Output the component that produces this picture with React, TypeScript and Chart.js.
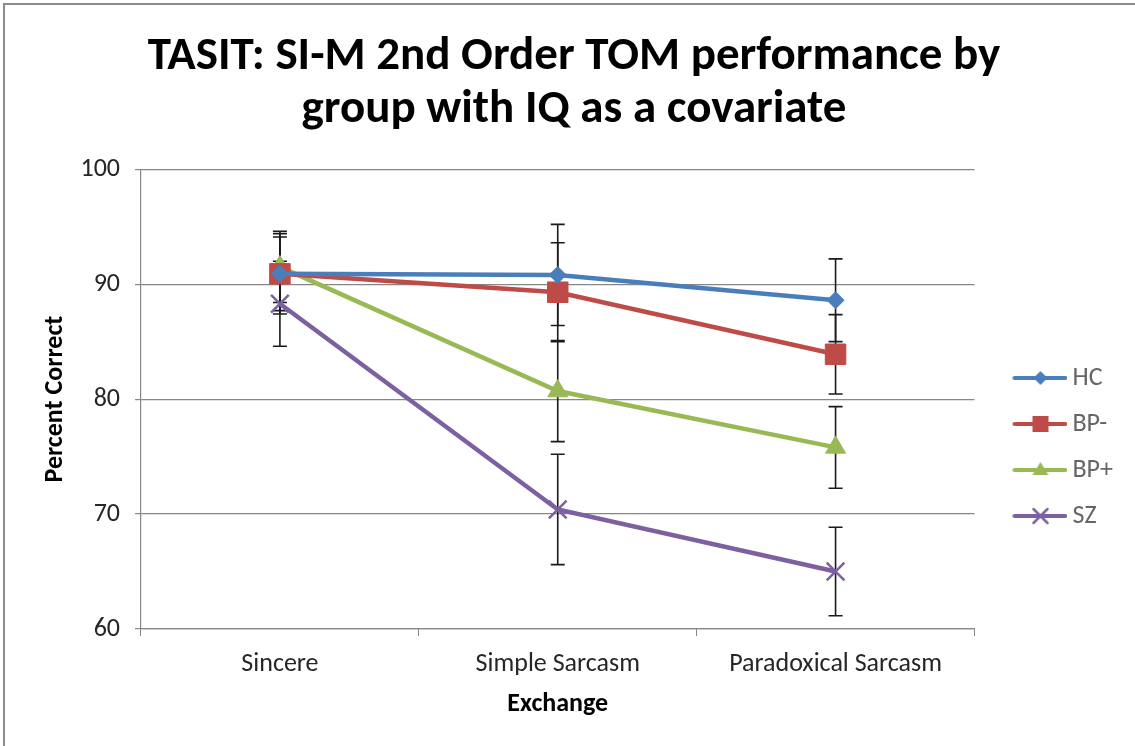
import React, { useEffect, useRef } from 'react';
import { Chart, registerables } from 'chart.js';

Chart.register(...registerables);

const FONT = "Carlito, Lato, 'Open Sans', sans-serif";

const titleLines = ['TASIT: SI-M 2nd Order TOM performance by', 'group with IQ as a covariate'];
const categories = ['Sincere', 'Simple Sarcasm', 'Paradoxical Sarcasm'];
const seriesNames = ['HC', 'BP-', 'BP+', 'SZ'];
const hcValues = [90.9, 90.8, 88.6];
const bpMinusValues = [90.9, 89.3, 83.9];
const bpPlusValues = [91.5, 80.7, 75.8];
const szValues = [88.3, 70.4, 65.0];
const hcErrors = [3.5, 4.4, 3.6];
const bpMinusErrors = [3.2, 4.3, 3.45];
const bpPlusErrors = [3.1, 4.4, 3.55];
const szErrors = [3.7, 4.8, 3.85];
const yTickValues = [60, 70, 80, 90, 100];
const yAxisTitle = 'Percent Correct';
const xAxisTitle = 'Exchange';

const seriesValues = [hcValues, bpMinusValues, bpPlusValues, szValues];
const seriesErrors = [hcErrors, bpMinusErrors, bpPlusErrors, szErrors];
const seriesColors = ['#4A7EBB', '#BE4B48', '#98B954', '#7D60A0'];
const markerStyles = ['rectRot', 'rect', 'triangle', 'crossRot'];
const markerRadius = [8.5, 14.5, 11.5, 12.5];

const ICON_BOX = 65;
const ICON_W = 81;

function legendIcon(color: string, style: string): HTMLCanvasElement {
  const c = document.createElement('canvas');
  c.width = ICON_W;
  c.height = 24;
  const ctx = c.getContext('2d')!;
  ctx.strokeStyle = color;
  ctx.fillStyle = color;
  ctx.lineWidth = 4;
  ctx.lineCap = 'round';
  ctx.beginPath();
  ctx.moveTo(28, 12);
  ctx.lineTo(79, 12);
  ctx.stroke();
  const cx = 54;
  const cy = 12;
  ctx.beginPath();
  if (style === 'rectRot') {
    ctx.moveTo(cx, cy - 7);
    ctx.lineTo(cx + 7, cy);
    ctx.lineTo(cx, cy + 7);
    ctx.lineTo(cx - 7, cy);
    ctx.closePath();
    ctx.fill();
  } else if (style === 'rect') {
    ctx.rect(cx - 8, cy - 8, 16, 16);
    ctx.fill();
  } else if (style === 'triangle') {
    ctx.moveTo(cx, cy - 8);
    ctx.lineTo(cx + 8, cy + 5);
    ctx.lineTo(cx - 8, cy + 5);
    ctx.closePath();
    ctx.fill();
  } else {
    ctx.lineWidth = 2.5;
    ctx.moveTo(cx - 7, cy - 7);
    ctx.lineTo(cx + 7, cy + 7);
    ctx.moveTo(cx + 7, cy - 7);
    ctx.lineTo(cx - 7, cy + 7);
    ctx.stroke();
  }
  return c;
}

const errorBarPlugin = {
  id: 'errorBars',
  beforeDatasetsDraw(chart: any) {
    const ctx = chart.ctx;
    const yScale = chart.scales.y;
    ctx.save();
    ctx.strokeStyle = '#1a1a1a';
    ctx.lineWidth = 1.6;
    chart.data.datasets.forEach((ds: any, i: number) => {
      const meta = chart.getDatasetMeta(i);
      const errs = seriesErrors[i];
      meta.data.forEach((pt: any, j: number) => {
        const v = ds.data[j];
        const top = yScale.getPixelForValue(v + errs[j]);
        const bot = yScale.getPixelForValue(v - errs[j]);
        const x = pt.x;
        ctx.beginPath();
        ctx.moveTo(x, top);
        ctx.lineTo(x, bot);
        ctx.moveTo(x - 7, top);
        ctx.lineTo(x + 7, top);
        ctx.moveTo(x - 7, bot);
        ctx.lineTo(x + 7, bot);
        ctx.stroke();
      });
    });
    ctx.restore();
  },
};

export default function App() {
  const ref = useRef<HTMLCanvasElement>(null);
  useEffect(() => {
    if (!ref.current) return;
    const icons = seriesNames.map((_, i) => legendIcon(seriesColors[i], markerStyles[i]));
    const chart = new Chart(ref.current, {
      type: 'line',
      data: {
        labels: categories,
        datasets: seriesNames.map((name, i) => ({
          label: name,
          data: seriesValues[i],
          borderColor: seriesColors[i],
          backgroundColor: seriesColors[i],
          borderWidth: 4.5,
          pointStyle: markerStyles[i] as any,
          pointRadius: markerRadius[i],
          pointBorderWidth: markerStyles[i] === 'crossRot' ? 2.5 : 1,
          pointBackgroundColor: seriesColors[i],
          pointBorderColor: seriesColors[i],
          tension: 0,
        })),
      },
      options: {
        animation: false,
        responsive: false,
        layout: { padding: { left: 25, right: 12, top: 0, bottom: 0 } },
        plugins: {
          title: {
            display: true,
            text: titleLines,
            color: '#000',
            font: { family: FONT, size: 47, weight: 'bold', lineHeight: 1.13 },
            padding: { top: 30.5, bottom: 32.5 },
          },
          legend: {
            display: true,
            position: 'right',
            title: {
              display: true,
              text: ' ',
              font: { family: FONT, size: 20 },
              padding: { top: 124, bottom: 0 },
            },
            labels: {
              usePointStyle: true,
              pointStyleWidth: ICON_BOX,
              padding: 20,
              color: '#262626',
              font: { family: FONT, size: 26 },
              generateLabels: () =>
                seriesNames.map((name, i) => ({
                  text: name,
                  pointStyle: icons[i] as any,
                  fillStyle: seriesColors[i],
                  strokeStyle: seriesColors[i],
                  lineWidth: 0,
                  datasetIndex: i,
                  hidden: false,
                })),
            },
          },
          tooltip: { enabled: false },
        },
        scales: {
          x: {
            offset: true,
            afterFit: (scale: any) => {
              scale.height = 117;
            },
            grid: {
              offset: true,
              drawOnChartArea: false,
              drawTicks: true,
              tickLength: 7,
              color: '#878787',
              lineWidth: 1,
            },
            border: { color: '#878787', width: 1.2 },
            ticks: { color: '#262626', font: { family: FONT, size: 26 }, padding: 13 },
            title: {
              display: true,
              text: xAxisTitle,
              color: '#000',
              font: { family: FONT, size: 26, weight: 'bold' },
              padding: { top: 8, bottom: 26.4 },
            },
          },
          y: {
            min: 60,
            max: 100,
            afterBuildTicks: (scale: any) => {
              scale.ticks = yTickValues.map((v) => ({ value: v }));
            },
            afterFit: (scale: any) => {
              scale.width = 116;
            },
            grid: {
              color: '#878787',
              lineWidth: 1.2,
              drawTicks: true,
              tickLength: 6,
            },
            border: { color: '#878787', width: 1.2 },
            ticks: { color: '#262626', font: { family: FONT, size: 26 }, padding: 15 },
            title: {
              display: true,
              text: yAxisTitle,
              color: '#000',
              font: { family: FONT, size: 26, weight: 'bold' },
              padding: { top: 14.4, bottom: 0 },
            },
          },
        },
      },
      plugins: [errorBarPlugin],
    });
    return () => chart.destroy();
  }, []);
  return (
    <div style={{ position: 'fixed', left: 0, top: 0, width: 1135, height: 746, background: '#fff' }}>
      <canvas ref={ref} width={1135} height={746} style={{ position: 'absolute', left: 0, top: 0 }} />
      <div
        style={{
          position: 'absolute',
          left: 3,
          top: 3,
          right: -5,
          bottom: -5,
          borderTop: '2px solid #8c8c8c',
          borderLeft: '2px solid #8c8c8c',
          pointerEvents: 'none',
        }}
      />
    </div>
  );
}
